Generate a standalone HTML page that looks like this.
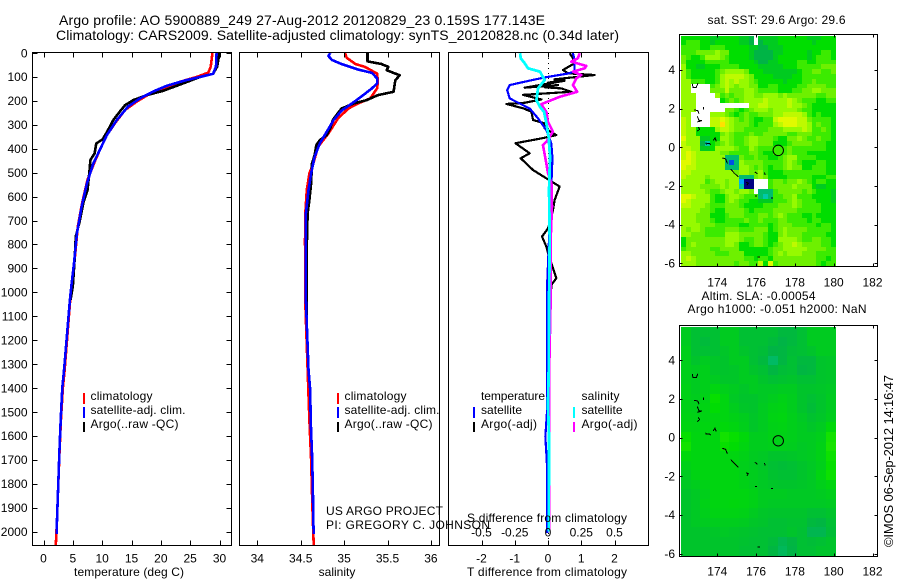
<!DOCTYPE html>
<html lang="en">
<head>
<meta charset="utf-8">
<title>Argo profile 5900889_249</title>
<style>
html,body{margin:0;padding:0;background:#fff;}
svg{display:block;}
text{font-family:"Liberation Sans",sans-serif;font-size:12px;fill:#000;}
.title{font-size:14px;}
</style>
</head>
<body>
<svg id="chart" xmlns="http://www.w3.org/2000/svg" width="900" height="580" viewBox="0 0 900 580">
<rect x="0" y="0" width="900" height="580" fill="#fff"/>
<g id="layer-maps"></g>
<g id="layer-profiles"></g>

<text class="title" x="59" y="25" textLength="486">Argo profile: AO 5900889_249 27-Aug-2012 20120829_23 0.159S 177.143E</text>
<text class="title" x="56" y="40" textLength="563">Climatology: CARS2009. Satellite-adjusted climatology: synTS_20120828.nc (0.34d later)</text>

<text x="129" y="576" text-anchor="middle" textLength="110">temperature (deg C)</text>
<text x="337" y="576" text-anchor="middle">salinity</text>
<text x="547" y="576" text-anchor="middle" textLength="160">T difference from climatology</text>
<text x="547" y="522" text-anchor="middle" textLength="160">S difference from climatology</text>

<text x="326" y="515" textLength="117">US ARGO PROJECT</text>
<text x="326" y="529" textLength="164">PI: GREGORY C. JOHNSON</text>

<g>
<rect x="83" y="393" width="2" height="11" fill="#f00"/>
<rect x="83" y="407" width="2" height="11" fill="#00f"/>
<rect x="83" y="422" width="2" height="10" fill="#000"/>
<text x="90.5" y="400" textLength="62">climatology</text>
<text x="90.5" y="414" textLength="95">satellite-adj. clim.</text>
<text x="90.5" y="428" textLength="88">Argo(..raw -QC)</text>
</g>
<g>
<rect x="337" y="393" width="2" height="11" fill="#f00"/>
<rect x="337" y="407" width="2" height="11" fill="#00f"/>
<rect x="337" y="422" width="2" height="10" fill="#000"/>
<text x="344.5" y="400" textLength="62">climatology</text>
<text x="344.5" y="414" textLength="95">satellite-adj. clim.</text>
<text x="344.5" y="428" textLength="88">Argo(..raw -QC)</text>
</g>
<g>
<rect x="473" y="407" width="2" height="11" fill="#00f"/>
<rect x="473" y="422" width="2" height="10" fill="#000"/>
<rect x="573" y="407" width="2" height="11" fill="#0ff"/>
<rect x="573" y="422" width="2" height="10" fill="#f0f"/>
<text x="481" y="400" textLength="64">temperature</text>
<text x="481" y="414" textLength="41">satellite</text>
<text x="481" y="428" textLength="56">Argo(-adj)</text>
<text x="581.5" y="400" textLength="38">salinity</text>
<text x="581.5" y="414" textLength="41">satellite</text>
<text x="581.5" y="428" textLength="56">Argo(-adj)</text>
</g>

<text x="707.5" y="24" textLength="138">sat. SST: 29.6 Argo: 29.6</text>
<text x="701.5" y="300" textLength="114">Altim. SLA: -0.00054</text>
<text x="687.5" y="313" textLength="179">Argo h1000: -0.051 h2000: NaN</text>
<text transform="translate(893,547) rotate(-90)" x="0" y="0" textLength="172" style="font-size:13px">©IMOS 06-Sep-2012 14:16:47</text>
</svg>

<script>
const _ = null;

/* ---------- axis ticks ---------- */
const depthTicks = [0,100,200,300,400,500,600,700,800,900,1000,1100,1200,1300,1400,1500,1600,1700,1800,1900,2000];
const temperatureTicks = [0,5,10,15,20,25,30];
const salinityTicks = [34,34.5,35,35.5,36];
const tDiffTicks = [-2,-1,0,1,2];
const sDiffTicks = [-0.5,-0.25,0,0.25,0.5];
const lonTicks = [174,176,178,180,182];
const latTicks = [4,2,0,-2,-4,-6];

/* ---------- temperature panel ---------- */
const tempClimDepth = [0,57,82,100,120,148,169,203,238,293,343,405,450,530,625,725,879,962,1032,1325,1400,1534,1672,1813,1952,2056];
const tempClimValue = [28.8,28.5,28.1,26.1,23.3,20.4,18.2,15.9,13.9,12.2,10.8,9.6,8.8,7.5,6.6,5.85,5.25,4.8,4.55,3.6,3.3,2.97,2.72,2.5,2.3,2.1];
const tempArgoDepth = [0,57,87,100,127,158,176,197,218,245,280,322,360,378,420,447,503,573,625,700,767,865,975,1032];
const tempArgoValue = [30,29.6,28.9,26.7,23.8,20.4,17.6,15.3,13.9,13,11.9,11,10.1,9,8.7,8,7.8,7.5,6.8,6.2,5.5,5.3,5,4.6];
const tempSatDepth = [0,57,87,100,113,137,161,189,224,280,343,405,461,545,642,753,879,962,1032,1325,1400,1534,1672,1813,1952,2010];
const tempSatValue = [29.5,29.4,28.9,26.7,24.4,21,18.7,16.5,14.4,12.5,10.8,9.6,8.5,7.4,6.5,5.7,5.2,4.8,4.5,3.5,3.2,2.93,2.7,2.5,2.3,2.25];

/* ---------- salinity panel ---------- */
const salClimDepth = [0,20,46,58,86,120,148,190,211,232,273,336,392,462,503,573,670,781,1032,1325,1534,1700,1900,2056];
const salClimValue = [35.01,35.03,35.13,35.24,35.38,35.39,35.38,35.3,35.16,35.05,34.93,34.82,34.7,34.645,34.6,34.57,34.553,34.55,34.552,34.58,34.6,34.62,34.635,34.65];
const salArgoDepth = [0,35,46,58,72,93,114,162,176,197,211,232,246,280,315,343,364,385,427,462,545,615,670,810,1032,1100];
const salArgoValue = [35.27,35.27,35.43,35.51,35.49,35.64,35.59,35.57,35.39,35.26,35.11,34.97,34.94,34.87,34.84,34.8,34.72,34.68,34.66,34.63,34.62,34.6,34.58,34.57,34.57,34.57];
const salSatDepth = [0,13,29,46,69,83,106,127,148,176,211,241,280,329,378,434,503,573,670,781,920,1032,1325,1410,1534,1672,1813,1952,2010];
const salSatValue = [34.84,34.82,34.86,34.97,35.16,35.32,35.38,35.38,35.32,35.22,35.09,34.97,34.88,34.8,34.72,34.66,34.62,34.59,34.56,34.56,34.56,34.56,34.59,34.61,34.615,34.63,34.64,34.645,34.65];

/* ---------- difference panel ---------- */
const dTArgoDepth = [1,22,43,71,85,92,110,113,124,116,145,134,143,148,162,175,194,208,213,231,245,280,294,315,343,357,377,419,440,489,528,558,614,656,698,733,767,809,851,879,941,969,1032];
const dTArgoValue = [0.65,0.75,0.8,0.45,0.6,1.4,0.2,0.5,0,0.5,-0.7,0.3,-0.1,0.4,0.7,-0.75,-0.2,-0.7,-1.25,-0.75,-0.5,-0.45,-0.1,-0.1,0.25,-0.2,-0.98,-0.55,-0.82,-0.45,0,0.35,0.2,0.15,0.08,0,-0.18,-0.05,0.03,0.1,0.25,0.1,0.08];
const dTSatDepth = [0,29,77,86,102,123,134,155,190,204,232,273,322,378,434,503,573,781,948,1032,1500,1603,1672,1750,2005];
const dTSatValue = [0.75,0.8,0.8,0.6,-0.1,-0.8,-1.15,-1.23,-1.15,-0.95,-0.55,-0.3,-0.05,0.1,0.13,0.12,0.08,0.03,-0.02,-0.03,-0.03,-0.08,-0.05,-0.02,-0.02];
const dSArgoDepth = [1,22,36,54,64,78,92,106,134,162,183,214,246,287,329,371,385,448,503,545,642,781,1032,1300,2000];
const dSArgoValue = [0.238,0.225,0.175,0.288,0.276,0.188,0.25,0.213,0.188,0.22,0.088,-0.05,-0.012,0,0.037,-0.012,-0.038,-0.017,0,0.026,0.03,0.02,0.02,0.01,0.01];
const dSSatDepth = [1,22,43,64,78,99,113,148,197,225,246,294,350,434,573,781,1032,1332,1470,1610,2000];
const dSSatValue = [-0.21,-0.205,-0.175,-0.15,-0.06,-0.04,-0.025,-0.075,-0.087,-0.06,-0.03,-0.012,0.005,0.015,0.008,0.013,0.008,0.005,0,0.008,0.005];

/* ---------- SST map, 48 rows by 32 columns; null is missing data ---------- */
const sstRows = [
[2,2,2,2,2,2,1,1,2,2,2,2,1,1,0,_,1,1,1,1,2,2,2,2,2,2,1,1,1,2,2,2],
[2,3,3,3,2,2,1,2,2,2,2,2,1,1,0,_,0,1,1,1,2,2,2,2,2,2,2,1,2,2,2,2],
[3,3,3,3,2,2,3,3,3,2,2,2,2,2,1,1,0,0,1,1,1,2,2,2,2,2,2,2,2,2,2,2],
[3,3,3,4,4,4,4,5,4,4,2,2,2,2,1,0,0,0,0,1,1,2,2,2,2,2,1,2,2,3,3,2],
[4,3,2,2,3,5,5,5,4,3,2,2,2,2,1,0,0,0,0,1,2,2,2,2,2,2,1,2,3,3,3,2],
[4,2,2,2,2,3,3,3,3,3,2,2,2,2,2,1,0,0,1,1,2,2,2,2,3,3,2,2,3,3,3,3],
[5,2,2,1,1,2,2,2,3,3,3,3,2,2,2,2,1,1,1,1,1,2,2,2,3,3,3,3,3,4,4,4],
[5,3,2,2,2,2,2,3,4,5,5,5,5,4,2,2,2,1,1,1,1,1,1,1,2,3,3,4,4,3,3,4],
[5,3,2,2,2,2,2,3,5,6,6,6,6,5,4,2,2,2,2,1,1,1,1,2,2,3,3,3,3,3,3,3],
[5,5,3,3,3,2,2,3,5,6,5,6,5,5,4,3,2,2,2,2,2,1,2,2,2,3,3,4,3,3,3,3],
[5,5,_,_,_,_,3,4,5,6,5,4,5,5,4,4,2,2,3,3,2,2,2,2,3,3,4,4,4,4,3,3],
[5,5,_,_,_,_,4,4,4,6,4,4,4,5,5,4,3,3,3,3,2,2,2,3,3,4,4,5,5,4,4,4],
[5,5,5,_,_,_,_,5,3,4,3,4,4,5,5,4,4,5,5,5,4,5,4,4,4,4,4,4,3,3,4,4],
[5,5,5,_,_,_,_,_,2,3,4,3,4,5,5,5,5,6,5,5,5,5,6,5,4,3,3,3,2,2,3,3],
[5,5,5,_,_,_,_,_,_,_,_,_,_,_,5,5,6,6,5,5,5,5,6,5,5,4,3,2,2,2,2,2],
[5,5,5,_,_,_,_,_,_,4,4,3,2,3,4,5,5,5,4,5,5,5,5,5,4,3,3,2,2,2,2,2],
[5,5,_,_,_,_,5,5,5,4,3,2,3,4,3,3,4,4,4,5,5,6,6,6,6,5,3,2,3,2,2,2],
[6,5,_,_,_,_,6,6,7,6,5,4,3,4,3,2,2,3,3,6,7,7,7,7,6,6,4,3,3,3,3,2],
[6,5,_,_,_,_,6,6,8,6,5,4,4,4,3,2,3,3,3,5,6,7,7,7,6,6,5,3,4,3,3,2],
[6,5,5,2,2,2,2,5,6,6,5,4,4,3,3,3,3,3,4,4,4,5,5,5,5,6,5,3,3,4,3,2],
[6,5,5,2,2,2,2,2,4,5,4,3,3,3,4,3,3,4,4,4,4,4,3,3,4,4,4,3,3,3,3,2],
[7,5,5,5,1,1,2,2,5,5,4,3,3,4,5,5,4,4,4,3,2,2,4,4,5,4,3,3,4,3,3,2],
[6,5,5,5,0,-1,2,3,4,5,4,3,3,4,5,5,4,4,4,2,2,2,3,4,4,4,4,3,3,3,2,2],
[6,6,5,5,1,1,2,5,5,5,5,4,3,3,5,4,3,3,3,3,3,3,4,3,3,3,3,3,3,3,2,2],
[6,7,6,5,5,5,5,5,4,4,3,3,3,3,4,4,3,2,2,3,3,3,4,3,3,3,2,2,2,2,2,2],
[6,7,6,5,5,5,5,5,5,-0.4,-0.4,-0.4,4,3,3,4,3,3,2,2,3,4,5,5,3,3,3,3,2,2,2,2],
[7,7,6,5,5,5,5,5,5,-0.4,-3,-0.4,5,4,4,4,4,3,3,3,3,4,5,4,3,2,2,2,3,3,2,2],
[7,6,6,5,5,5,5,5,5,-0.4,-0.4,-0.4,5,5,4,3,4,3,2,3,3,4,5,4,4,2,2,3,3,3,2,2],
[6,6,5,5,5,5,5,5,5,5,5,4,5,5,4,4,5,3,2,2,2,3,3,3,3,3,3,3,3,3,2,2],
[6,5,5,5,5,4,5,5,5,5,5,5,-0.4,-0.4,-0.4,4,5,4,2,2,2,2,3,3,3,3,3,2,2,2,3,3],
[5,5,5,5,5,3,4,5,5,4,5,5,-2,-4,-4,_,_,_,3,4,4,3,4,4,5,4,3,2,3,3,2,2],
[5,5,5,5,4,4,4,4,5,4,5,5,-1,-4,-4,_,_,_,3,4,4,4,4,5,4,4,4,2,1,1,2,2],
[5,5,5,5,5,4,3,3,4,5,5,4,5,5,4,_,-0.4,-0.4,-0.4,3,4,4,4,4,4,3,4,3,2,2,2,1],
[7,7,6,5,5,5,3,2,2,4,5,5,4,3,3,3,-0.4,-1,-0.4,3,3,4,4,5,3,3,3,2,2,2,2,1],
[7,6,5,5,5,5,3,2,2,4,5,4,3,3,2,2,1,1,1,3,3,3,4,5,4,3,3,3,2,2,2,1],
[6,6,5,5,5,4,3,3,3,4,4,4,3,2,2,2,2,3,3,3,4,4,4,5,4,3,3,3,3,2,2,2],
[5,5,5,5,4,4,3,2,2,4,4,4,4,3,2,3,3,3,3,4,4,4,4,4,3,3,3,3,3,2,2,2],
[5,5,5,4,4,4,2,2,2,3,4,4,4,3,3,3,4,4,3,4,5,4,3,3,3,2,2,3,2,2,2,2],
[5,5,5,4,4,4,3,2,2,3,3,3,3,4,3,3,4,3,3,3,4,4,3,3,3,3,2,3,3,2,2,2],
[5,5,5,5,4,4,4,3,3,3,3,3,2,2,3,3,3,3,2,3,4,4,4,3,3,3,3,3,2,3,3,2],
[5,4,5,5,4,3,3,3,3,4,4,4,3,3,3,4,4,4,2,3,4,5,4,4,4,4,3,3,3,3,3,2],
[5,5,4,4,4,3,3,3,3,5,5,5,4,4,4,4,4,3,2,2,4,5,4,4,4,3,3,3,3,3,2,2],
[2,4,4,4,4,4,4,4,4,5,5,5,4,3,3,4,4,3,2,2,5,5,5,5,4,3,3,4,4,3,3,2],
[2,4,5,4,4,4,4,4,4,5,5,4,2,2,3,4,4,3,2,3,4,5,5,6,5,4,4,4,4,3,3,2],
[3,4,4,4,4,4,3,3,4,4,4,4,2,2,2,2,2,2,3,4,4,5,5,5,5,5,4,4,4,4,3,3],
[5,5,4,4,4,4,4,3,3,3,4,4,4,2,2,2,2,2,3,4,5,4,5,5,5,4,4,4,3,3,3,3],
[5,6,5,4,4,4,4,4,4,4,4,4,4,3,3,2,3,3,2,4,4,4,4,4,4,4,4,4,3,3,2,3],
[5,5,5,4,4,4,4,4,4,4,4,3,4,4,3,3,6,2,7,3,4,4,4,4,4,4,4,4,3,2,3,3]
];

/* ---------- sea level map, 24 rows by 16 columns ---------- */
const slaRows = [
[1.5,1,1,1,1.5,1.5,1,1,1,1,0.7,0.7,1,1.5,1.5,1.5],
[1.5,1,0.8,1,1.5,1.5,1,1,1,0.8,0.5,0.7,1,1.5,1.5,1.5],
[1.7,1,1,1,1.3,1.5,1.2,1,0.9,0.5,0.6,0.9,1,1.2,1.5,1.5],
[1.7,1.2,1.5,1.3,1.2,1.5,1.5,1,0.7,0.2,0.6,1,0.7,0.7,1.2,1.3],
[1.7,1.5,1.7,1.3,1.2,1.3,1.5,1.2,1,0.6,0.9,1,0.6,0.7,1.2,1.3],
[1.7,1.5,1.7,1.5,1.3,1.3,1.5,1.5,1.2,1,1.1,1.2,1,1,1.2,1.3],
[1.8,1.5,1.7,2,1.7,1.5,1.3,1.5,1.4,1.4,1.5,1.5,1.2,1.2,1.3,1.4],
[1.8,1.6,1.8,2.6,2,1.4,1.2,1.2,1.4,1.6,1.8,1.6,1.2,1,1.2,1.5],
[1.8,1.7,1.9,2.4,2,1.6,1.3,1.2,1.5,1.8,1.9,1.6,1.2,0.9,1.2,1.5],
[1.9,1.8,1.9,2,2,1.8,1.6,1.3,1.5,1.9,2,1.7,1.4,1.1,1.3,1.6],
[2,1.9,2,2,2.2,2,1.7,1.3,1.5,1.8,1.9,1.7,1.5,1.3,1.5,2.2],
[2.6,2,2,2,2.8,2.6,2.2,1.6,1.6,1.8,1.8,1.7,1.5,1.5,1.7,2.8],
[2.8,2,2,2,2.6,2.4,2,1.6,1.6,1.7,1.7,1.6,1.4,1.5,1.8,2.9],
[2.2,2,2,2,2,2,1.8,1.5,1.4,1.2,1.2,1.3,1.4,1.5,1.8,2.7],
[1.8,2,2,2,2,2,1.7,1.5,1.3,1,0.9,1,1.2,1.4,1.7,2.6],
[1.5,1.9,2,2,2,2,1.8,1.6,1.4,1.1,1,1,1.2,1.4,2,2.7],
[1.4,1.6,1.8,2,2,2,1.8,1.6,1.4,1.3,1.2,1.2,1.3,1.4,1.7,2],
[1.2,1.4,1.7,2,2,2,2,1.8,1.5,1.5,1.5,1.4,1.4,1.4,1.5,1.7],
[1.2,1.4,1.8,2,2,2.1,2,1.8,1.5,1.4,1.4,1.4,1.4,1.4,1.4,1.5],
[1.2,1.4,1.7,1.9,1.9,1.9,1.8,1.5,1.3,1.2,1.2,1.2,1.2,1,1,1.2],
[1.2,1.4,1.5,1.6,1.6,1.6,1.5,1.3,1.2,1,1,1.1,1.1,0.7,0.6,1],
[1.2,1.2,1.2,1.3,1.4,1.3,1.2,1.1,1,1,1,1.2,1,0.4,0.4,0.9],
[1.2,1.2,1.2,1.2,1.2,1.2,1.1,1,1,0.8,0.4,0.6,1,0.9,1,1.2],
[1.2,1.2,1.2,1.2,1.2,1.2,1,1,1,0.6,0.3,0.5,1,1,1.2,1.2]
];

/* ---------- coastlines and float position, lon/lat in degrees ---------- */
const coastLon = [
[172.71,172.75,172.92,173],[172.81,172.99,173.06],[173.28,173.28],[172.97,173.06,173.2,172.97],[173.02,173.09,172.97],
[173.79,173.88,173.95],[173.4,173.43,173.6,173.66],[174.26,174.43,174.52],[174.69,174.86,175.08],[175.94,176.06],
[176.44,176.46],[175.49,175.6,175.53],[175.94,176.05],[176.77,176.86],[176.06,176.19]
];
const coastLat = [
[3.28,3.1,3.1,3.31],[1.93,1.9,1.73],[2.09,1.96],[1.6,1.38,1.38,1.31],[1.05,0.93,0.83],
[0.35,0.49,0.31],[0.26,0.18,0.19,0.14],[-0.55,-0.6,-0.83],[-1.12,-1.32,-1.53],[-1.27,-1.37],
[-1.31,-1.43],[-1.81,-1.86,-1.96],[-2.51,-2.51],[-2.62,-2.62],[-5.66,-5.66]
];
const floatLon = 177.143;
const floatLat = -0.159;

/* ---------- colour scale stops ---------- */
const scaleValues = [-4,-3,-2,-1,0,1,2,3,4,5,6,7,8,9];
const scaleColors = [[0,0,130],[0,80,230],[0,170,255],[0,200,170],[0,180,70],[0,203,32],[0,222,0],[60,235,0],[110,240,0],[150,250,0],[190,250,0],[225,250,0],[255,225,0],[255,170,0]];

/* ---------- geometry and axis functions ---------- */
const SVG_NS = 'http://www.w3.org/2000/svg';
const svgRoot = document.getElementById('chart');
const profileLayer = document.getElementById('layer-profiles');
const mapLayer = document.getElementById('layer-maps');
const plotTop = 53, plotBottom = 545;

function yDepth(d){ return 53 + d * 0.2393; }
function xTemp(v){ return 43.5 + v * 5.867; }
function xSal(v){ return 257.3 + (v - 34) * 86.8; }
function xDT(v){ return 548 + v * 33.25; }
function xDS(v){ return 548 + v * 133; }
function xLon(v){ return 717.3 + (v - 174) * 19.4; }

function make(tag, parent){
  const el = document.createElementNS(SVG_NS, tag);
  parent.appendChild(el);
  return el;
}

function colorFor(v){
  if (v <= scaleValues[0]) return 'rgb(' + scaleColors[0].join(',') + ')';
  for (let i = 1; i < scaleValues.length; i++){
    if (v <= scaleValues[i]){
      const f = (v - scaleValues[i-1]) / (scaleValues[i] - scaleValues[i-1]);
      const a = scaleColors[i-1], b = scaleColors[i];
      return 'rgb(' + Math.round(a[0]+(b[0]-a[0])*f) + ',' + Math.round(a[1]+(b[1]-a[1])*f) + ',' + Math.round(a[2]+(b[2]-a[2])*f) + ')';
    }
  }
  return 'rgb(' + scaleColors[scaleColors.length-1].join(',') + ')';
}

function drawLine(parent, name, xFn, values, depths, color, width){
  const pts = [];
  for (let i = 0; i < values.length; i++){
    pts.push(xFn(values[i]).toFixed(2) + ',' + yDepth(depths[i]).toFixed(2));
  }
  const line = make('polyline', parent);
  
  
  line.setAttribute('points', pts.join(' '));
  line.setAttribute('fill', 'none');
  line.setAttribute('stroke', color);
  line.setAttribute('stroke-width', width);
  line.setAttribute('stroke-linejoin', 'round');
  line.setAttribute('shape-rendering', 'crispEdges');
}

function drawSegment(parent, name, x1, y1, x2, y2){
  const s = make('line', parent);
  
  
  s.setAttribute('x1', x1);
  s.setAttribute('y1', y1);
  s.setAttribute('x2', x2);
  s.setAttribute('y2', y2);
  s.setAttribute('stroke', '#000');
  s.setAttribute('stroke-width', 1);
  s.setAttribute('shape-rendering', 'crispEdges');
}

function drawLabel(parent, name, x, y, anchor, str){
  const t = make('text', parent);
  
  
  t.setAttribute('x', x);
  t.setAttribute('y', y);
  t.setAttribute('text-anchor', anchor);
  t.textContent = str;
}

function drawFrame(parent, name, l, t, r, b){
  const f = make('rect', parent);
  
  
  f.setAttribute('x', l);
  f.setAttribute('y', t);
  f.setAttribute('width', r - l);
  f.setAttribute('height', b - t);
  f.setAttribute('fill', 'none');
  f.setAttribute('stroke', '#000');
  f.setAttribute('stroke-width', 1);
  f.setAttribute('shape-rendering', 'crispEdges');
}

function drawXAxis(parent, ticks, xFn, top, bottom, len, baseline, prefix){
  ticks.forEach(function(v){
    const x = Math.round(xFn(v)) + 0.5;
    drawSegment(parent, prefix + '-tick-top', x, top, x, top + len);
    drawSegment(parent, prefix + '-tick-bottom', x, bottom - len, x, bottom);
    if (baseline !== null) drawLabel(parent, prefix + '-tick-label', xFn(v), baseline, 'middle', String(v));
  });
}

/* ---------- profile panels ---------- */
const panelT = make('g', profileLayer);


drawLine(panelT, 'temperature-climatology-line', xTemp, tempClimValue, tempClimDepth, '#f00', 2.6);
drawLine(panelT, 'temperature-argo-line', xTemp, tempArgoValue, tempArgoDepth, '#000', 2.6);
drawLine(panelT, 'temperature-satellite-line', xTemp, tempSatValue, tempSatDepth, '#00f', 2.6);
drawFrame(panelT, 'temperature-plot-frame', 32.5, 52.5, 231.5, 545.5);
drawXAxis(panelT, temperatureTicks, xTemp, 52.5, 545.5, 5, 562.5, 'temperature-x');
depthTicks.forEach(function(d){
  const y = Math.round(yDepth(d)) + 0.5;
  drawSegment(panelT, 'depth-tick-left', 32.5, y, 37.5, y);
  drawSegment(panelT, 'depth-tick-right', 226.5, y, 231.5, y);
  drawLabel(panelT, 'depth-tick-label', 27.5, yDepth(d) + 4.3, 'end', String(d));
});

const panelS = make('g', profileLayer);


drawLine(panelS, 'salinity-climatology-line', xSal, salClimValue, salClimDepth, '#f00', 2.6);
drawLine(panelS, 'salinity-argo-line', xSal, salArgoValue, salArgoDepth, '#000', 2.6);
drawLine(panelS, 'salinity-satellite-line', xSal, salSatValue, salSatDepth, '#00f', 2.6);
drawFrame(panelS, 'salinity-plot-frame', 239.5, 52.5, 439.5, 545.5);
drawXAxis(panelS, salinityTicks, xSal, 52.5, 545.5, 5, 562.5, 'salinity-x');

const panelD = make('g', profileLayer);


const zeroLine = make('line', panelD);


zeroLine.setAttribute('x1', Math.round(xDT(0)) + 0.5);
zeroLine.setAttribute('x2', Math.round(xDT(0)) + 0.5);
zeroLine.setAttribute('y1', plotTop);
zeroLine.setAttribute('y2', plotBottom);
zeroLine.setAttribute('stroke', '#000');
zeroLine.setAttribute('stroke-dasharray', '1 4');
zeroLine.setAttribute('shape-rendering', 'crispEdges');
drawLine(panelD, 't-difference-argo-line', xDT, dTArgoValue, dTArgoDepth, '#000', 2.2);
drawLine(panelD, 't-difference-satellite-line', xDT, dTSatValue, dTSatDepth, '#00f', 2.2);
drawLine(panelD, 's-difference-argo-line', xDS, dSArgoValue, dSArgoDepth, '#f0f', 2.6);
drawLine(panelD, 's-difference-satellite-line', xDS, dSSatValue, dSSatDepth, '#0ff', 2.8);
drawFrame(panelD, 'difference-plot-frame', 448.5, 52.5, 648.5, 545.5);
drawXAxis(panelD, tDiffTicks, xDT, 52.5, 545.5, 5, 562.5, 't-difference-x');
sDiffTicks.forEach(function(v){
  drawLabel(panelD, 's-difference-x-tick-label', xDS(v), 536.5, 'middle', String(v));
});

/* ---------- maps ---------- */
function drawMap(name, rows, colorShift, gridLeft, gridRight, gridTop, gridBottom, boxTop, boxBottom, latZeroY, labelBaseline){
  const yLat = function(v){ return latZeroY - v * 19.35; };
  const g = make('g', mapLayer);
  
  
  const rowH = (gridBottom - gridTop) / rows.length;
  rows.forEach(function(row, r){
    const colW = (gridRight - gridLeft) / row.length;
    const yA = Math.round(gridTop + r * rowH), yB = Math.round(gridTop + (r + 1) * rowH);
    row.forEach(function(v, c){
      if (v === null) return;
      const xA = Math.round(gridLeft + c * colW), xB = Math.round(gridLeft + (c + 1) * colW);
      const cell = make('rect', g);
      
      
      cell.setAttribute('x', xA);
      cell.setAttribute('y', yA);
      cell.setAttribute('width', xB - xA);
      cell.setAttribute('height', yB - yA);
      cell.setAttribute('fill', colorFor(v + colorShift));
      cell.setAttribute('shape-rendering', 'crispEdges');
    });
  });
  coastLon.forEach(function(lons, i){
    const pts = lons.map(function(lon, j){ return xLon(lon).toFixed(1) + ',' + yLat(coastLat[i][j]).toFixed(1); });
    const coast = make('polyline', g);
    
    
    coast.setAttribute('points', pts.join(' '));
    coast.setAttribute('fill', 'none');
    coast.setAttribute('stroke', '#000');
    coast.setAttribute('stroke-width', 1);
    coast.setAttribute('shape-rendering', 'crispEdges');
  });
  const marker = make('circle', g);
  
  
  marker.setAttribute('cx', xLon(floatLon));
  marker.setAttribute('cy', yLat(floatLat));
  marker.setAttribute('r', 5.2);
  marker.setAttribute('fill', 'none');
  marker.setAttribute('stroke', '#000');
  marker.setAttribute('stroke-width', 1);
  drawFrame(g, 'map-frame', 679.5, boxTop, 877.5, boxBottom);
  drawXAxis(g, lonTicks, xLon, boxTop, boxBottom, 3, labelBaseline, 'longitude');
  latTicks.forEach(function(lat){
    const y = Math.round(yLat(lat)) + 0.5;
    drawSegment(g, 'latitude-tick-left', 679.5, y, 682.5, y);
    drawSegment(g, 'latitude-tick-right', 874.5, y, 877.5, y);
    drawLabel(g, 'latitude-tick-label', 675, yLat(lat) + 4, 'end', String(lat));
  });
}

drawMap('sst-map', sstRows, 0, 681, 835.7, 35.7, 265.7, 34.5, 266.5, 147.3, 286.5);
drawMap('sea-level-map', slaRows, -0.5, 681, 835.7, 327, 556, 325.5, 556.5, 437.7, 575.5);
</script>
</body>
</html>
